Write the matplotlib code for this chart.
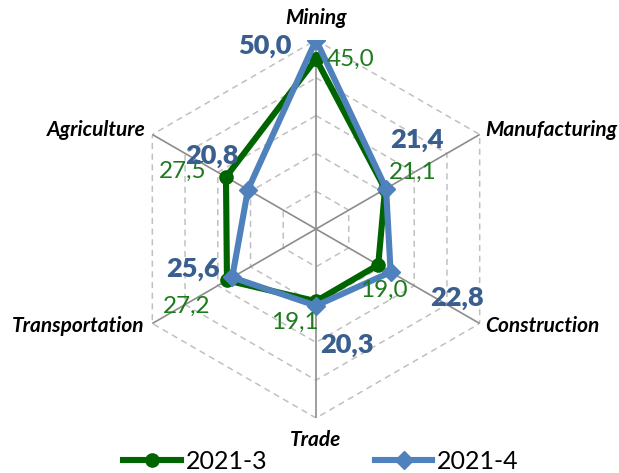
import numpy as np
import matplotlib
matplotlib.use("Agg")
from matplotlib import pyplot as plt

plt.rcParams['font.family'] = ['Lato', 'DejaVu Sans']

categories = ['Mining', 'Manufacturing', 'Construction', 'Trade', 'Transportation', 'Agriculture']
q3_values = [45.0, 21.1, 19.0, 19.1, 27.2, 27.5]
q4_values = [50.0, 21.4, 22.8, 20.3, 25.6, 20.8]
series_names = ['2021-3', '2021-4']
ring_values = [10, 20, 30, 40, 50]

green = '#006400'
green_text = '#1d7a1d'
blue = '#4f81bd'
blue_text = '#3a5f8f'

# label offsets in points (x, y)
q3_offsets = [(25, 0), (20, 12), (4, -18), (-15, -15), (-29, -19), (-31, 4)]
q4_offsets = [(-37, -4), (22, 35), (48, -19), (22, -28), (-28, 6), (-26, 24)]
cat_offsets = [(0, 16), (4, 3), (4, -2), (0, -16), (-6, -2), (-5, 3)]
cat_align = [('center', 'center'), ('left', 'center'), ('left', 'center'),
             ('center', 'center'), ('right', 'center'), ('right', 'center')]


def fmt(v):
    return f"{v:.1f}".replace('.', ',')


fig = plt.figure(figsize=(6.19, 4.73), dpi=100)
ax = fig.add_axes([316 / 619 - 189 / 619, (473 - 229 - 189) / 473, 378 / 619, 378 / 473],
                  projection='polar')
ax.set_theta_zero_location('N')
ax.set_theta_direction(-1)
ax.set_ylim(0, 50)
ax.grid(False)
ax.spines['polar'].set_visible(False)
ax.set_xticks([])
ax.set_yticks([])
ax.patch.set_alpha(0)

angles = np.deg2rad(np.arange(len(categories)) * 60)
closed = np.append(angles, angles[0])

for r in ring_values:
    ax.plot(closed, [r] * len(closed), color='#c0c0c0', lw=1.1, ls=(0, (4, 3)), zorder=1)
for a in angles:
    ax.plot([a, a], [0, 50], color='#8c8c8c', lw=1.2, zorder=2)

ax.plot(closed, q3_values + q3_values[:1], color=green, lw=4.4, marker='o', ms=9.5,
        label=series_names[0], zorder=3)
ax.plot(closed, q4_values + q4_values[:1], color=blue, lw=4.4, marker='D', ms=9.5,
        label=series_names[1], zorder=4)

for a, v, off in zip(angles, q3_values, q3_offsets):
    ax.annotate(fmt(v), (a, v), xytext=off, textcoords='offset points',
                ha='center', va='center', fontsize=17.5, color=green_text, zorder=5)
for a, v, off in zip(angles, q4_values, q4_offsets):
    ax.annotate(fmt(v), (a, v), xytext=off, textcoords='offset points',
                ha='center', va='center', fontsize=19.5, fontweight='heavy',
                color=blue_text, zorder=5)

for a, name, off, (ha, va) in zip(angles, categories, cat_offsets, cat_align):
    ax.annotate(name, (a, 50), xytext=off, textcoords='offset points',
                ha=ha, va=va, fontsize=15, fontweight='bold', fontstyle='italic',
                color='black', annotation_clip=False)

fig.legend(loc='center', bbox_to_anchor=(321 / 619, 12 / 473), ncol=2, frameon=False,
           fontsize=18, handlelength=2.3, columnspacing=4.3, handletextpad=0.2,
           borderaxespad=0, borderpad=0)

fig.savefig('out.png', dpi=100)
